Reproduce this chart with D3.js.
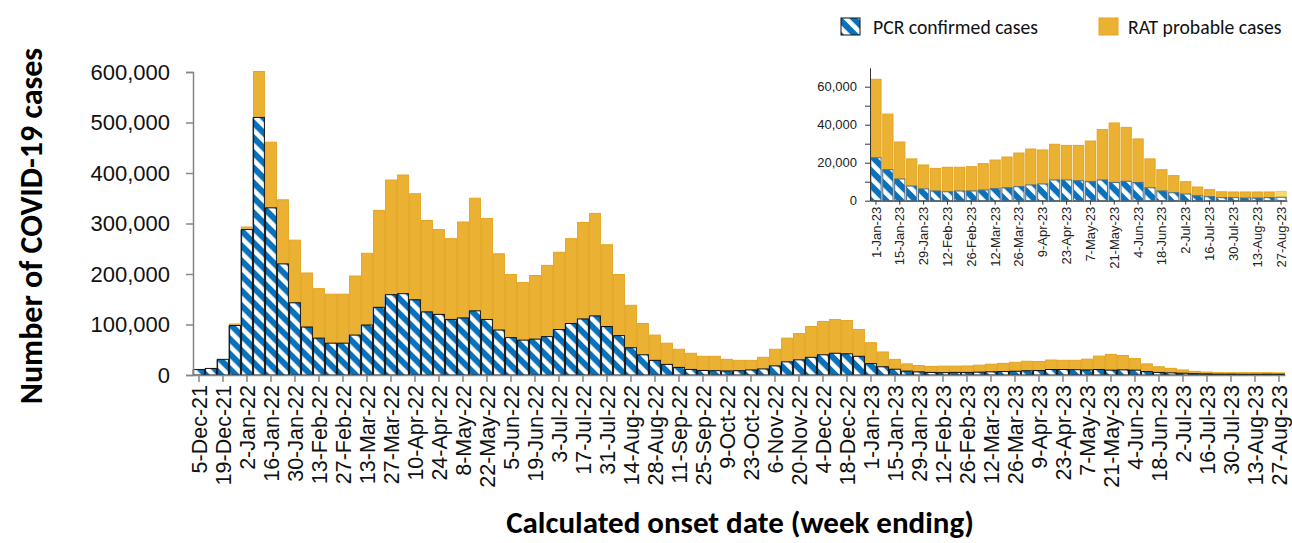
<!DOCTYPE html>
<html>
<head>
<meta charset="utf-8">
<script src="https://cdn.jsdelivr.net/npm/d3@7"></script>
<style>
  body { margin: 0; background: #fff; }
  svg { display: block; font-family: Carlito, Calibri, Lato, "Open Sans", sans-serif; }
</style>
</head>
<body>
<div id="chart"></div>
<script>
// week ending dates (Sunday)
var weeks = [
  "5-Dec-21", "12-Dec-21", "19-Dec-21", "26-Dec-21",
  "2-Jan-22", "9-Jan-22", "16-Jan-22", "23-Jan-22", "30-Jan-22", "6-Feb-22", "13-Feb-22", "20-Feb-22", "27-Feb-22",
  "6-Mar-22", "13-Mar-22", "20-Mar-22", "27-Mar-22", "3-Apr-22", "10-Apr-22", "17-Apr-22", "24-Apr-22",
  "1-May-22", "8-May-22", "15-May-22", "22-May-22", "29-May-22", "5-Jun-22", "12-Jun-22", "19-Jun-22", "26-Jun-22",
  "3-Jul-22", "10-Jul-22", "17-Jul-22", "24-Jul-22", "31-Jul-22", "7-Aug-22", "14-Aug-22", "21-Aug-22", "28-Aug-22",
  "4-Sep-22", "11-Sep-22", "18-Sep-22", "25-Sep-22", "2-Oct-22", "9-Oct-22", "16-Oct-22", "23-Oct-22", "30-Oct-22",
  "6-Nov-22", "13-Nov-22", "20-Nov-22", "27-Nov-22", "4-Dec-22", "11-Dec-22", "18-Dec-22", "25-Dec-22",
  "1-Jan-23", "8-Jan-23", "15-Jan-23", "22-Jan-23", "29-Jan-23", "5-Feb-23", "12-Feb-23", "19-Feb-23", "26-Feb-23",
  "5-Mar-23", "12-Mar-23", "19-Mar-23", "26-Mar-23", "2-Apr-23", "9-Apr-23", "16-Apr-23", "23-Apr-23", "30-Apr-23",
  "7-May-23", "14-May-23", "21-May-23", "28-May-23", "4-Jun-23", "11-Jun-23", "18-Jun-23", "25-Jun-23",
  "2-Jul-23", "9-Jul-23", "16-Jul-23", "23-Jul-23", "30-Jul-23", "6-Aug-23", "13-Aug-23", "20-Aug-23", "27-Aug-23"
];

// PCR confirmed cases per week
var pcrCases = [
  11000, 13000, 31000, 98000,
  288000, 510000, 331000, 220000, 143000, 95000, 73000, 63000, 63000,
  79000, 99000, 134000, 159000, 161000, 149000, 125000, 120000,
  110000, 113000, 127000, 110000, 89000, 74000, 69000, 71000, 76000,
  90000, 102000, 111000, 117000, 96000, 78000, 54000, 40000, 29000,
  21000, 15000, 11000, 9000, 8500, 8000, 8500, 10000, 12000,
  18000, 26000, 30000, 35000, 40000, 43000, 42000, 37000,
  22600, 16300, 11400, 7700, 6200, 5100, 4700, 5100, 5100,
  5600, 6300, 6800, 7400, 8300, 8800, 10900, 10900, 10500,
  10000, 10900, 9600, 10200, 9600, 6800, 5100, 4200,
  3500, 2600, 2100, 1600, 1600, 1400, 1400, 1600, 1800
];

// RAT probable cases per week
var ratCases = [
  0, 0, 0, 3000,
  5000, 91000, 130000, 127000, 124000, 107000, 98000, 97000, 97000,
  117000, 142000, 192000, 227000, 235000, 210000, 181000, 168000,
  160000, 190000, 223000, 200000, 151000, 125000, 114000, 126000, 141000,
  153000, 168000, 191000, 203000, 162000, 121000, 84000, 62000, 50000,
  42000, 36000, 32000, 28000, 28500, 23000, 20500, 19000, 23000,
  33000, 47000, 52000, 61000, 66000, 67000, 66000, 53000,
  41300, 29300, 19500, 14300, 12600, 11900, 12900, 12500, 12800,
  13900, 15100, 16200, 17700, 18900, 17900, 18800, 18200, 18600,
  21400, 26500, 31300, 28400, 22900, 15200, 11200, 9000,
  6500, 4600, 3700, 3100, 3000, 3200, 3200, 3000, 3100
];

// most recent week is still incomplete
var provisionalWeeks = ["27-Aug-23"];
var insetStart = "1-Jan-23";

var mainTicks = [0, 100000, 200000, 300000, 400000, 500000, 600000];
var insetTicks = [0, 10000, 20000, 30000, 40000, 50000, 60000];
var insetLabels = [0, 20000, 40000, 60000];

var data = weeks.map(function (w, i) {
  return { week: w, i: i, pcr: pcrCases[i], rat: ratCases[i], prov: provisionalWeeks.indexOf(w) >= 0 };
});
var insetData = data.filter(function (d) { return d.i >= weeks.indexOf(insetStart); });

var svgWidth = 1292, svgHeight = 543;

var svg = d3.select('#chart').append('svg')
  .attr('width', svgWidth)
  .attr('height', svgHeight);

// hatch patterns for PCR
var defs = svg.append('defs');
function hatch(id, blue) {
  var p = defs.append('pattern')
    .attr('id', id)
    .attr('patternUnits', 'userSpaceOnUse')
    .attr('width', 10.6)
    .attr('height', 10.6)
    .attr('patternTransform', 'rotate(-45)');
  p.append('rect').attr('width', 10.6).attr('height', 10.6).attr('fill', blue);
  p.append('rect').attr('width', 4.6).attr('height', 10.6).attr('fill', '#fff');
}
hatch('pcrHatch', '#0872BC');
hatch('pcrHatchLight', '#A9D3EE');

var ratColor = '#EBB133', ratStroke = '#E3A521', ratLight = '#F9D870';

// ---------- main chart ----------
var x = d3.scaleBand()
  .domain(weeks)
  .range([193, 1285])
  .paddingInner(0.1)
  .paddingOuter(0.05);

var y = d3.scaleLinear()
  .domain([0, 600000])
  .range([375, 72]);

var main = svg.append('g');

main.selectAll('.ratBar')
  .data(data.filter(function (d) { return d.rat > 0; }))
  .enter().append('rect')
  .attr('class', 'ratBar')
  .attr('x', function (d) { return x(d.week); })
  .attr('width', x.bandwidth())
  .attr('y', function (d) { return y(d.pcr + d.rat); })
  .attr('height', function (d) { return y(d.pcr) - y(d.pcr + d.rat); })
  .attr('fill', function (d) { return d.prov ? ratLight : ratColor; })
  .attr('stroke', function (d) { return d.prov ? '#F3CC55' : ratStroke; })
  .attr('stroke-width', 1);

// shadow on the left of the pcr bars
main.selectAll('.pcrShadow')
  .data(data)
  .enter().append('rect')
  .attr('class', 'pcrShadow')
  .attr('x', function (d) { return x(d.week) - 1.5; })
  .attr('width', x.bandwidth())
  .attr('y', function (d) { return y(d.pcr); })
  .attr('height', function (d) { return y(0) - y(d.pcr); })
  .attr('fill', '#9a9a9a');

main.selectAll('.pcrBar')
  .data(data)
  .enter().append('rect')
  .attr('class', 'pcrBar')
  .attr('x', function (d) { return x(d.week); })
  .attr('width', x.bandwidth())
  .attr('y', function (d) { return y(d.pcr); })
  .attr('height', function (d) { return y(0) - y(d.pcr); })
  .attr('fill', function (d) { return d.prov ? 'url(#pcrHatchLight)' : 'url(#pcrHatch)'; })
  .attr('stroke', '#111')
  .attr('stroke-width', 1);

// y axis
var yAxis = main.append('g')
  .attr('transform', 'translate(193,0)')
  .call(d3.axisLeft(y).tickValues(mainTicks).tickSize(7).tickPadding(16).tickFormat(d3.format(',')));
yAxis.select('.domain').attr('stroke', '#868686').attr('stroke-width', 1.5);
yAxis.selectAll('.tick line').attr('stroke', '#868686').attr('stroke-width', 1.5);
yAxis.selectAll('text').attr('font-size', 22).attr('fill', '#111').style('font-family', 'inherit');

// x axis
var xAxis = main.append('g')
  .attr('transform', 'translate(0,375)')
  .call(d3.axisBottom(x)
    .tickValues(weeks.filter(function (w, i) { return i % 2 === 0; }))
    .tickSize(7).tickSizeOuter(0).tickPadding(10));
xAxis.select('.domain').attr('stroke', '#868686').attr('stroke-width', 1.5);
xAxis.selectAll('.tick line').attr('stroke', '#868686').attr('stroke-width', 1.5);
xAxis.selectAll('text')
  .attr('font-size', 21.5)
  .attr('fill', '#111')
  .style('font-family', 'inherit')
  .attr('text-anchor', 'end')
  .attr('transform', 'rotate(-90)')
  .attr('x', -10)
  .attr('y', 0)
  .attr('dy', '0.36em');

// axis titles
svg.append('text')
  .attr('transform', 'translate(31,226) rotate(-90)')
  .attr('text-anchor', 'middle')
  .attr('dy', '0.35em')
  .attr('font-size', 32)
  .attr('font-weight', 'bold')
  .attr('fill', '#000')
  .text('Number of COVID-19 cases');

svg.append('text')
  .attr('x', 740)
  .attr('y', 533)
  .attr('text-anchor', 'middle')
  .attr('font-size', 31)
  .attr('font-weight', 'bold')
  .attr('fill', '#000')
  .text('Calculated onset date (week ending)');

// ---------- inset ----------
var xi = d3.scaleBand()
  .domain(insetData.map(function (d) { return d.week; }))
  .range([870, 1287])
  .paddingInner(0.14)
  .paddingOuter(0.07);

var yi = d3.scaleLinear()
  .domain([0, 70000])
  .range([200.7, 67.7]);

var inset = svg.append('g');

inset.selectAll('.ratBar')
  .data(insetData)
  .enter().append('rect')
  .attr('x', function (d) { return xi(d.week); })
  .attr('width', xi.bandwidth())
  .attr('y', function (d) { return yi(d.pcr + d.rat); })
  .attr('height', function (d) { return yi(d.pcr) - yi(d.pcr + d.rat); })
  .attr('fill', function (d) { return d.prov ? ratLight : ratColor; })
  .attr('stroke', function (d) { return d.prov ? '#F3CC55' : ratStroke; })
  .attr('stroke-width', 1);

inset.selectAll('.pcrBar')
  .data(insetData)
  .enter().append('rect')
  .attr('x', function (d) { return xi(d.week); })
  .attr('width', xi.bandwidth())
  .attr('y', function (d) { return yi(d.pcr); })
  .attr('height', function (d) { return yi(0) - yi(d.pcr); })
  .attr('fill', function (d) { return d.prov ? 'url(#pcrHatchLight)' : 'url(#pcrHatch)'; })
  .attr('stroke', '#4d6f8c')
  .attr('stroke-width', 1);

var yiAxis = inset.append('g')
  .attr('transform', 'translate(870,0)')
  .call(d3.axisLeft(yi).tickValues(insetTicks).tickSize(5).tickSizeOuter(0).tickPadding(8)
    .tickFormat(function (d) { return insetLabels.indexOf(d) >= 0 ? d3.format(',')(d) : ''; }));
yiAxis.select('.domain').attr('stroke', '#333');
yiAxis.selectAll('.tick line').attr('stroke', '#333');
yiAxis.selectAll('text').attr('font-size', 13).attr('fill', '#222')
  .style('font-family', '"Liberation Sans", Arial, sans-serif');

var xiAxis = inset.append('g')
  .attr('transform', 'translate(0,200.7)')
  .call(d3.axisBottom(xi)
    .tickValues(insetData.filter(function (d, i) { return i % 2 === 0; }).map(function (d) { return d.week; }))
    .tickSize(4).tickSizeOuter(0));
xiAxis.select('.domain').attr('stroke', '#333');
xiAxis.selectAll('.tick line').attr('stroke', '#333');
xiAxis.selectAll('text')
  .attr('font-size', 13)
  .attr('fill', '#222')
  .style('font-family', '"Liberation Sans", Arial, sans-serif')
  .attr('text-anchor', 'end')
  .attr('transform', 'rotate(-90)')
  .attr('x', -6)
  .attr('y', 0)
  .attr('dy', '0.35em');

// ---------- legend ----------
var legend = svg.append('g');
legend.append('rect')
  .attr('x', 841).attr('y', 18).attr('width', 19).attr('height', 17)
  .attr('fill', 'url(#pcrHatch)').attr('stroke', '#111');
legend.append('text')
  .attr('x', 873).attr('y', 27).attr('dy', '0.35em')
  .attr('font-size', 19.7).attr('fill', '#111')
  .text('PCR confirmed cases');
legend.append('rect')
  .attr('x', 1099).attr('y', 18).attr('width', 19).attr('height', 17)
  .attr('fill', ratColor).attr('stroke', ratStroke);
legend.append('text')
  .attr('x', 1128).attr('y', 27).attr('dy', '0.35em')
  .attr('font-size', 19.7).attr('fill', '#111')
  .text('RAT probable cases');

console.log('done');
</script>
</body>
</html>
